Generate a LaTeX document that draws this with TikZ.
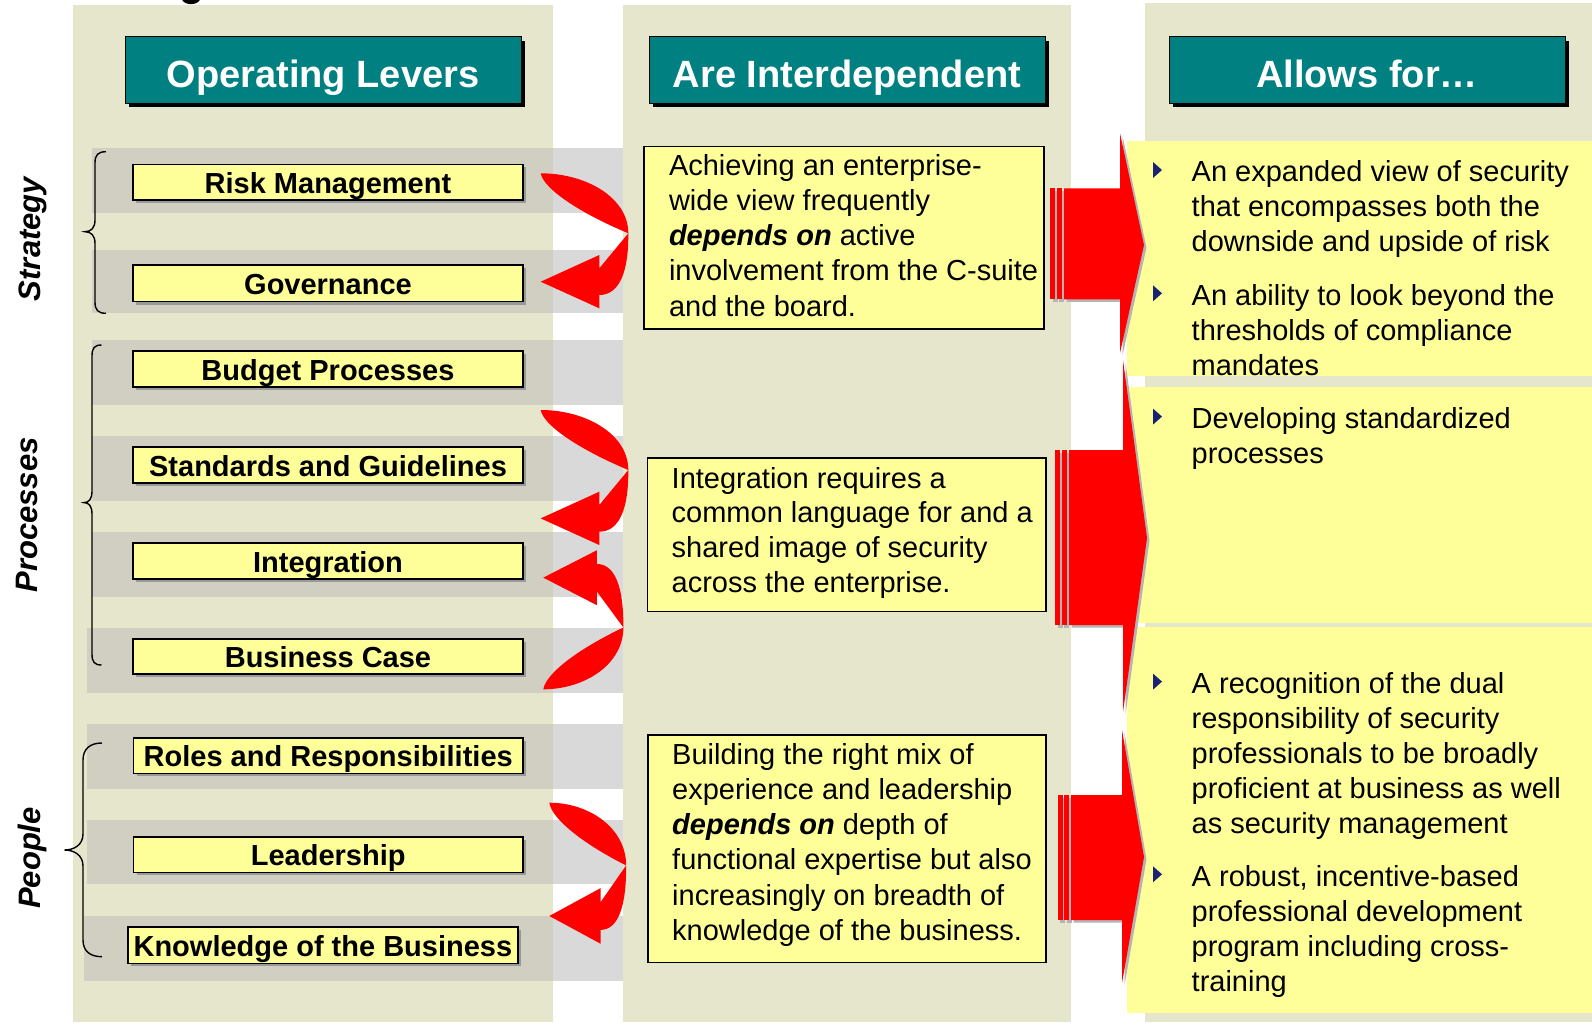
\documentclass[tikz,border=0pt]{standalone}
\usepackage{fontspec}
\setmainfont{Liberation Sans}
\usetikzlibrary{shadows}

\definecolor{colbg}{HTML}{E6E6CC}
\definecolor{stripbeige}{HTML}{D0CFC2}
\definecolor{stripwhite}{HTML}{D9D9D9}
\definecolor{lvyellow}{HTML}{FFFF99}
\definecolor{hdteal}{HTML}{008080}
\definecolor{arrowred}{HTML}{FF0000}
\definecolor{bulletnavy}{HTML}{1A2372}
\definecolor{arrowshadow}{HTML}{B4B4B4}

\tikzset{
  curlarrow/.pic={
    \fill[arrowred] (0,0) .. controls (45,0) and (87.6,24) .. (87.6,60)
      .. controls (88,100) and (78,121.7) .. (58.6,121.7)
      -- (58.6,135) -- (0,108.4) -- (58.6,81.7) -- (58.6,95) -- (87.6,60)
      .. controls (40,40) and (3,16) .. (0,0) -- cycle;
  },
  lever/.style={draw=black, line width=1.6pt, fill=lvyellow, inner sep=0pt,
    text depth=7pt,
    font=\bfseries\fontsize{29}{34}\selectfont,
    drop shadow={shadow xshift=3pt, shadow yshift=-3pt, fill=black!40, opacity=1}},
  header/.style={draw=black, line width=1pt, fill=hdteal, text=white, inner sep=0pt,
    minimum width=396pt, text height=50.6pt, text depth=16pt,
    font=\bfseries\fontsize{38}{44}\selectfont,
    drop shadow={shadow xshift=4pt, shadow yshift=-4pt, fill=black, opacity=1}},
  textbox/.style={draw=black, line width=1.8pt, fill=lvyellow, inner sep=0pt},
  bodytext/.style={inner sep=0pt, align=left, anchor=north west},
  catlabel/.style={inner sep=0pt, rotate=90, font=\bfseries\itshape\fontsize{31}{36}\selectfont},
  bracestroke/.style={draw=black, line width=1.4pt},
  bullet/.style={fill=bulletnavy},
}

\begin{document}
\begin{tikzpicture}[x=1pt,y=-1pt]
\useasboundingbox (0,0) rectangle (1592,1025);
\fill[white] (0,0) rectangle (1592,1025);

% tail of a letter from the title line above the columns
\draw[line width=4pt] (183.5,-2) .. controls (185,3.5) and (197,3.5) .. (198.5,-2);

% three column backgrounds
\fill[colbg] (73,5) rectangle (553,1022);
\fill[colbg] (1145,3) rectangle (1592,1022);

% grey row bands behind the levers
\foreach \xa/\ya/\yb in {92/148.3/212.7, 92/250/313.3, 91.5/340/405, 91.5/436/500.7,
                         91.5/531.7/596.7, 87/628.3/693.3, 87/724/788.7, 87/820/884.3, 84/916/980.7}{
  \fill[stripbeige] (\xa,\ya) rectangle (553,\yb);
  \fill[stripwhite] (553,\ya) rectangle (624,\yb);
}
\fill[colbg] (623,5) rectangle (1071,1022);

% result panels
\fill[lvyellow] (1127,141) rectangle (1592,376);
\fill[lvyellow] (1127,387) rectangle (1592,623);
\fill[lvyellow] (1127,627) rectangle (1592,1013);

% headers
\node[header] (hlevers) at (323,70) {Operating Levers};
\node[header] (hinter) at (847,70) {Are Interdependent};
\node[header] (hallows) at (1367,70) {Allows for…};

% group braces and labels
\draw[bracestroke] (106,151.7) .. controls (98,151.7) and (95,155) .. (95,163) -- (95,220)
  .. controls (95,228) and (91,231.7) .. (85,231.7) .. controls (91,231.7) and (95,235.4) .. (95,243.4)
  -- (95,302) .. controls (95,310) and (98,313.3) .. (106,313.3);
\draw[bracestroke] (101.5,345) .. controls (94.5,345) and (92,348) .. (92,356) -- (92,491)
  .. controls (92,499) and (89,502.6) .. (84,502.6) .. controls (89,502.6) and (92,506.2) .. (92,514)
  -- (92,654) .. controls (92,662) and (94.5,665) .. (101.5,665);
\draw[bracestroke] (102,743) .. controls (90,743) and (83,749) .. (83,760) -- (83,834)
  .. controls (83,845) and (74,850) .. (64.5,850) .. controls (74,850) and (83,855) .. (83,866)
  -- (83,940) .. controls (83,951) and (90,956.7) .. (102,956.7);

\node[catlabel] (lstrategy) at (33,239) {Strategy};
\node[catlabel] (lprocesses) at (26.5,515) {Processes};
\node[catlabel] (lpeople) at (32,858) {People};

% operating levers
\node[lever, minimum width=390pt, text height=28.7pt] (risk) at (328,182.2) {Risk Management};
\node[lever, minimum width=390pt, text height=29.7pt] (gov) at (328,283.3) {Governance};
\node[lever, minimum width=390pt, text height=29pt] (budget) at (328,369) {Budget Processes};
\node[lever, minimum width=390pt, text height=29pt] (standards) at (328,465) {Standards and Guidelines};
\node[lever, minimum width=390pt, text height=29pt] (integ) at (328,561) {Integration};
\node[lever, minimum width=390pt, text height=28pt] (bcase) at (328,656.5) {Business Case};
\node[lever, minimum width=389.5pt, text height=28.6pt] (roles) at (328.25,755.5) {Roles and Responsibilities};
\node[lever, minimum width=389.5pt, text height=28.6pt] (lead) at (328.25,854.5) {Leadership};
\node[lever, minimum width=390.2pt, text height=29.6pt] (know) at (322.9,945) {Knowledge of the Business};

% curved arrows linking the levers
\pic at (540.7,173.3) {curlarrow};
\pic at (540.7,410) {curlarrow};
\pic[xscale=0.914, yscale=-1.03] at (543.3,689.3) {curlarrow};
\pic[xscale=0.877, yscale=1.045] at (549.3,802.7) {curlarrow};

% block arrows into the result panels: shadow first, then red
\begin{scope}[shift={(2.5,2.5)}, fill=arrowshadow]
  \fill (1050,188.3) rectangle (1055,299.3);
  \fill (1056.5,188.3) rectangle (1061.5,299.3);
  \fill (1064,188.3) -- (1120,188.3) -- (1120,133.3) -- (1144,245) -- (1120,353) -- (1120,299.3) -- (1064,299.3) -- cycle;
  \fill (1055,450) rectangle (1060,625);
  \fill (1061.5,450) rectangle (1066.5,625);
  \fill (1069,450) -- (1123,450) -- (1123,360) -- (1147,538) -- (1123,712) -- (1123,625) -- (1069,625) -- cycle;
  \fill (1057.6,795) rectangle (1062.8,920);
  \fill (1064.2,795) rectangle (1069.4,920);
  \fill (1071,795) -- (1122,795) -- (1122,730) -- (1144,857) -- (1122,983) -- (1122,920) -- (1071,920) -- cycle;
\end{scope}
\begin{scope}[fill=arrowred]
  \fill (1050,188.3) rectangle (1055,299.3);
  \fill (1056.5,188.3) rectangle (1061.5,299.3);
  \fill (1064,188.3) -- (1120,188.3) -- (1120,133.3) -- (1144,245) -- (1120,353) -- (1120,299.3) -- (1064,299.3) -- cycle;
  \fill (1055,450) rectangle (1060,625);
  \fill (1061.5,450) rectangle (1066.5,625);
  \fill (1069,450) -- (1123,450) -- (1123,360) -- (1147,538) -- (1123,712) -- (1123,625) -- (1069,625) -- cycle;
  \fill (1057.6,795) rectangle (1062.8,920);
  \fill (1064.2,795) rectangle (1069.4,920);
  \fill (1071,795) -- (1122,795) -- (1122,730) -- (1144,857) -- (1122,983) -- (1122,920) -- (1071,920) -- cycle;
\end{scope}

% interdependence statements
\node[textbox, minimum width=400pt, minimum height=182.6pt] (box1) at (844,237.7) {};
\node[textbox, minimum width=398.4pt, minimum height=153.4pt] (box2) at (846.6,534.7) {};
\node[textbox, minimum width=398pt, minimum height=227.5pt] (box3) at (847,848.75) {};

\node[bodytext, font=\fontsize{29}{35.2}\selectfont] (box1text) at (668.8,150.4)
  {\strut Achieving an enterprise-\\wide view frequently\\{\bfseries\itshape depends on} active\\involvement from the C-suite\\and the board.};
\node[bodytext, font=\fontsize{29}{34.7}\selectfont] (box2text) at (671.5,463.7)
  {\strut Integration requires a\\common language for and a\\shared image of security\\across the enterprise.};
\node[bodytext, font=\fontsize{29}{35.1}\selectfont] (box3text) at (672,739.9)
  {\strut Building the right mix of\\experience and leadership\\{\bfseries\itshape depends on} depth of\\functional expertise but also\\increasingly on breadth of\\knowledge of the business.};

% outcomes
\foreach \c in {170,293.3,416.6,681.6,874.3}{
  \fill[bullet] (1153,\c-8) -- (1162,\c) -- (1153,\c+8) -- cycle;
}
\node[bodytext, font=\fontsize{29}{35}\selectfont] (out1) at (1191.5,157.2)
  {\strut An expanded view of security\\that encompasses both the\\downside and upside of risk};
\node[bodytext, font=\fontsize{29}{35}\selectfont] (out2) at (1191.5,280.5)
  {\strut An ability to look beyond the\\thresholds of compliance\\mandates};
\node[bodytext, font=\fontsize{29}{35}\selectfont] (out3) at (1191.5,403.8)
  {\strut Developing standardized\\processes};
\node[bodytext, font=\fontsize{29}{35}\selectfont] (out4) at (1191.5,668.8)
  {\strut A recognition of the dual\\responsibility of security\\professionals to be broadly\\proficient at business as well\\as security management};
\node[bodytext, font=\fontsize{29}{35}\selectfont] (out5) at (1191.5,861.5)
  {\strut A robust, incentive-based\\professional development\\program including cross-\\training};
\end{tikzpicture}
\end{document}
